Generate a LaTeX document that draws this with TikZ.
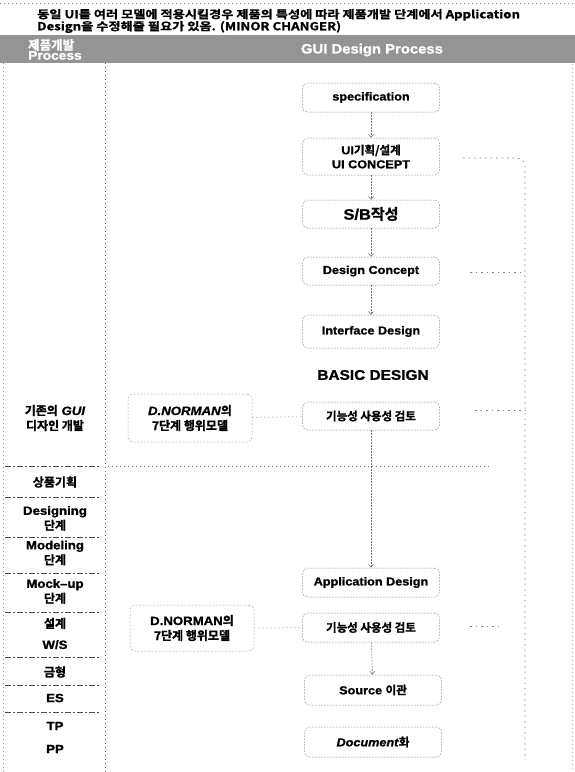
\documentclass[tikz,border=0pt]{standalone}
\usepackage{fontspec}
\setmainfont{Liberation Sans}[FakeStretch=1.1,BoldFeatures={FakeBold=1.2},BoldItalicFeatures={FakeBold=1.2}]
\newfontfamily\krfont{Noto Sans CJK KR}[BoldFont={Noto Sans CJK KR Bold},BoldFeatures={FakeBold=1.4}]
\newfontfamily\notefont{Noto Sans CJK KR}[BoldFont={Noto Sans CJK KR Bold},BoldFeatures={FakeBold=1.2},FakeStretch=1.2]
\newcommand\KR[1]{{\krfont #1}}
\usetikzlibrary{arrows.meta}
\begin{document}
\begin{tikzpicture}[x=1pt,y=-1pt,
  pbox/.style={draw=black!45,dash pattern=on 1.5pt off 1.5pt,rounded corners=5pt,line width=0.5pt,
    minimum width=137pt,inner sep=0pt,align=center,font=\bfseries\fontsize{11.5}{14}\selectfont},
  nbox/.style={draw=black!40,dash pattern=on 1.5pt off 2pt,rounded corners=5pt,line width=0.5pt,
    minimum width=124pt,inner sep=0pt,align=center,font=\bfseries\fontsize{12}{15}\selectfont},
  lab/.style={align=center,inner sep=0pt,font=\bfseries\fontsize{12}{15}\selectfont},
  conn/.style={draw=black!55,dash pattern=on 1.5pt off 1.5pt,line width=0.5pt,-{Straight Barb[length=3pt,width=5pt]}},
  dotl/.style={draw=black!45,dash pattern=on 1pt off 3pt,line width=0.5pt},
  rowl/.style={draw=black!70,dash pattern=on 6pt off 2pt on 2pt off 2pt,line width=0.6pt},
  fb/.style={draw=black!50,dash pattern=on 1.5pt off 4pt,line width=0.6pt,rounded corners=8pt},
  hdr/.style={text=white,inner sep=0pt,font=\bfseries\fontsize{12.5}{13}\selectfont}]
\useasboundingbox (0,0) rectangle (575,772);
\fill[white] (0,0) rectangle (575,772);
% frame lines
\coordinate (ftl) at (0,3); \coordinate (ftr) at (575,3);
\draw[dotl] (ftl) -- (ftr);
\coordinate (lt) at (3,63); \coordinate (lb) at (3,772);
\draw[dotl] (lt) -- (lb);
\coordinate (mt) at (105,63); \coordinate (mb) at (105,772);
\draw[dotl,draw=black!60] (mt) -- (mb);
\coordinate (rt) at (572,40); \coordinate (rb) at (572,772);
\draw[dotl,draw=black!30] (rt) -- (rb);
% top note
\node[anchor=west,inner sep=0pt,align=left,font=\notefont\bfseries\fontsize{11}{12}\selectfont] (note) at (37,21)
 {동일 UI를 여러 모델에 적용시킬경우 제품의 특성에 따라 제품개발 단계에서 Application\\Design을 수정해줄 필요가 있음. (MINOR CHANGER)};
% header band
\fill[black!42] (0,35) rectangle (575,63);
\node[hdr,align=left,anchor=west] (hleft) at (28,49.5) {\KR{제품개발}\\[-3pt]Process};
\node[hdr,font=\bfseries\fontsize{13.5}{14}\selectfont] (hright) at (372,50) {GUI Design Process};
% process boxes
\node[pbox,minimum height=29pt] (spec) at (371,97.5) {specification};
\node[pbox,minimum height=37pt] (ui) at (371,156.5) {UI\KR{기획/설계}\\UI CONCEPT};
\node[pbox,minimum height=28pt,font=\bfseries\fontsize{15}{16}\selectfont] (sb) at (371,214) {S/B\KR{작성}};
\node[pbox,minimum height=28pt] (dc) at (371,271) {Design Concept};
\node[pbox,minimum height=33pt] (ifd) at (371,331.5) {Interface Design};
\node[inner sep=0pt,font=\bfseries\fontsize{14}{15}\selectfont] (basic) at (373,375) {BASIC DESIGN};
\node[pbox,minimum height=28pt] (kn1) at (371,416) {\KR{기능성 사용성 검토}};
\node[pbox,minimum height=29pt] (app) at (371,582.5) {Application Design};
\node[pbox,minimum height=29pt] (kn2) at (371,627.5) {\KR{기능성 사용성 검토}};
\node[pbox,minimum height=30pt] (src) at (373,690) {Source \KR{이관}};
\node[pbox,minimum height=30pt] (doc) at (373,742) {\textit{Document}\KR{화}};
% D.NORMAN boxes
\node[nbox,minimum height=48pt] (dn1) at (190,418) {\textit{D.NORMAN}\KR{의}\\\KR{7단계 행위모델}};
\node[nbox,minimum height=46pt] (dn2) at (192,628) {D.NORMAN\KR{의}\\\KR{7단계 행위모델}};
% connectors
\draw[conn] (spec) -- (ui);
\draw[conn] (ui) -- (sb);
\draw[conn] (sb) -- (dc);
\draw[conn] (dc) -- (ifd);
\draw[conn] (kn1) -- (app);
\draw[conn] (kn2) -- (src);
\draw[dotl,draw=black!55] (dn1) -- (kn1);
\draw[dotl,draw=black!55] (dn2) -- (kn2);
% feedback line on the right
\coordinate (fa) at (463,158); \coordinate (fz) at (525,760);
\draw[fb] (fa) -| (fz);
\coordinate (fdc) at (470,272); \coordinate (fdce) at (525,272);
\draw[fb] (fdc) -- (fdce);
\coordinate (fk1) at (475,410); \coordinate (fk1e) at (525,410);
\draw[fb] (fk1) -- (fk1e);
\coordinate (fk2) at (470,626); \coordinate (fk2e) at (500,626);
\draw[fb] (fk2) -- (fk2e);
% left column labels
\node[lab] (old) at (55,418) {\KR{기존의} \textit{GUI}\\\KR{디자인 개발}};
\node[lab] (r1) at (55,482) {\KR{상품기획}};
\node[lab] (r2) at (55,518.5) {Designing\\\KR{단계}};
\node[lab] (r3) at (55,553) {Modeling\\\KR{단계}};
\node[lab] (r4) at (55,591.5) {Mock–up\\\KR{단계}};
\node[lab,font=\bfseries\fontsize{12}{21}\selectfont] (r5) at (55,633.5) {\KR{설계}\\W/S};
\node[lab] (r6) at (55,672) {\KR{금형}};
\node[lab] (r7) at (55,698) {ES};
\node[lab,font=\bfseries\fontsize{12}{23}\selectfont] (r8) at (55,737.5) {TP\\PP};
% row separators
\foreach \yy/\nm in {466/a,497/b,537/c,573/d,612/e,657/f,685/g,712/h}{
  \coordinate (s\nm1) at (5,\yy); \coordinate (s\nm2) at (101,\yy);
  \draw[rowl] (s\nm1) -- (s\nm2);
}
\coordinate (hx1) at (108,466); \coordinate (hx2) at (492,466);
\draw[dotl,draw=black!55] (hx1) -- (hx2);
\end{tikzpicture}
\end{document}
